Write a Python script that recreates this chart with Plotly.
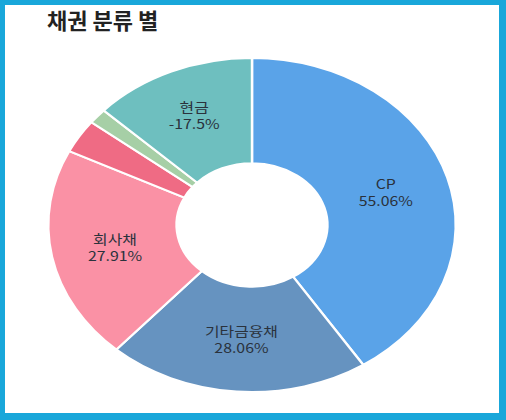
import plotly.graph_objects as go

# data
labels = ["CP", "기타금융채", "회사채", "국공채", "특수채", "현금"]
pct = [55.06, 28.06, 27.91, 4.4, 2.0, -17.5]
show_text = [True, True, True, False, False, True]
colors = ["#5aa3e8", "#6693c0", "#fa91a5", "#ef6b84", "#a6cfa6", "#6ebfbf"]

title = "채권 분류 별"

W, H = 506, 420
STRETCH = 1.22  # the reference donut is wider than tall

texts = [f"{l}<br>{p}%" if s else "" for l, p, s in zip(labels, pct, show_text)]

fig = go.Figure(
    go.Pie(
        labels=labels,
        values=[abs(p) for p in pct],
        text=texts,
        textinfo="text",
        textposition="inside",
        insidetextorientation="horizontal",
        hole=0.37,
        sort=False,
        direction="clockwise",
        rotation=0,
        marker=dict(colors=colors, line=dict(color="white", width=2)),
        insidetextfont=dict(family="Noto Sans CJK KR", size=13, color="#2a323c"),
        domain=dict(x=[85 / W, 419 / W], y=[28 / H, 362 / H]),
        showlegend=False,
    )
)

fig.update_layout(
    width=W,
    height=H,
    margin=dict(l=0, r=0, t=0, b=0),
    paper_bgcolor="#19a7da",
    plot_bgcolor="white",
    title=dict(
        text=f"<b>{title}</b>",
        x=47 / W,
        xanchor="left",
        y=1 - 21 / H,
        yanchor="middle",
        font=dict(family="Noto Sans CJK KR", size=22, color="#222222"),
    ),
    shapes=[
        dict(
            type="rect",
            xref="paper",
            yref="paper",
            x0=5 / W,
            x1=499 / W,
            y0=7 / H,
            y1=1 - 5 / H,
            fillcolor="white",
            line=dict(width=0),
            layer="below",
        )
    ],
)

# no page margin, and widen the donut horizontally like the reference
post = (
    "document.body.style.margin = '0';"
    "document.body.style.overflow = 'hidden';"
    "var gd = document.getElementById('{plot_id}');"
    "var pl = gd.querySelector('.pielayer');"
    "if (pl) { pl.setAttribute('transform', 'translate(252,0) scale(%s,1) translate(-252,0)'); }"
    % STRETCH
)

fig.write_html("out.html", post_script=post, config={"displayModeBar": False})
